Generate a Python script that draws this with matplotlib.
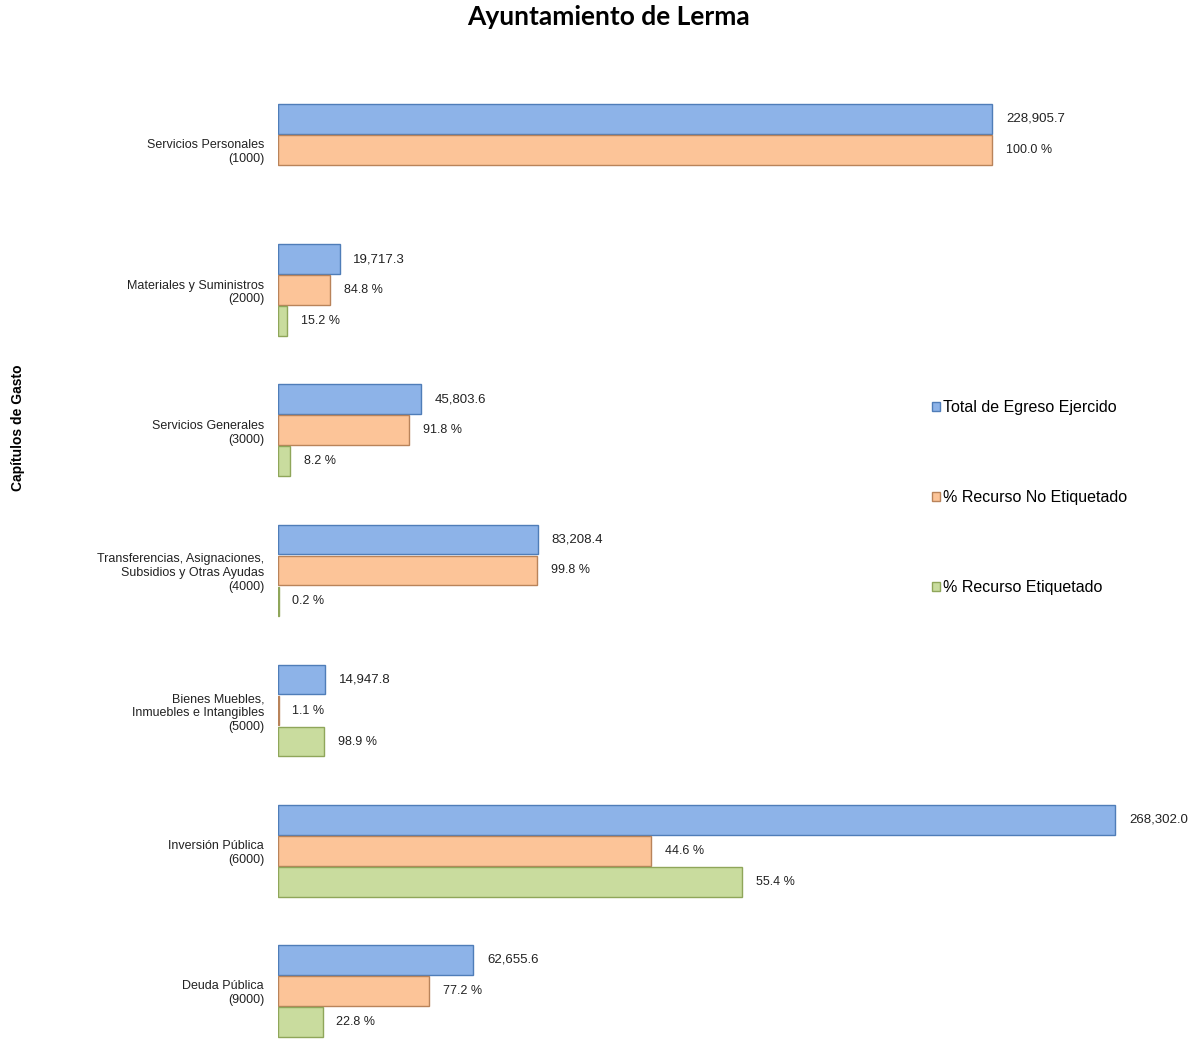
import matplotlib.pyplot as plt
import numpy as np

# data
categories = ['Servicios Personales\n(1000)', 'Materiales y Suministros\n(2000)',
              'Servicios Generales\n(3000)',
              'Transferencias, Asignaciones,\nSubsidios y Otras Ayudas\n(4000)',
              'Bienes Muebles,\nInmuebles e Intangibles\n(5000)',
              'Inversión Pública\n(6000)', 'Deuda Pública\n(9000)']
total = [228905.7, 19717.3, 45803.6, 83208.4, 14947.8, 268302.0, 62655.6]
pct_no_etiq = [100.0, 84.8, 91.8, 99.8, 1.1, 44.6, 77.2]
pct_etiq = [0.0, 15.2, 8.2, 0.2, 98.9, 55.4, 22.8]
series_names = ['Total de Egreso Ejercido', '% Recurso No Etiquetado', '% Recurso Etiquetado']

total = np.array(total)
no_etiq_amt = total * np.array(pct_no_etiq) / 100
etiq_amt = total * np.array(pct_etiq) / 100

fig = plt.figure(figsize=(11.96, 10.42), dpi=100)
ax = fig.add_axes([278/1196, 2/1042, 872/1196, 945/1042])

y = np.arange(len(categories))
step = 0.221
h = 0.212

b1 = ax.barh(y - step, total, height=h, color='#8DB3E8', edgecolor='#4F7DB8', linewidth=1)
b2 = ax.barh(y, no_etiq_amt, height=h, color='#FCC498', edgecolor='#B9835A', linewidth=1)
b3 = ax.barh(y + step, etiq_amt, height=h, color='#C9DC9E', edgecolor='#8FA65A', linewidth=1)

# hide empty bars
for bars in (b1, b2, b3):
    for p in bars.patches:
        if p.get_width() == 0:
            p.set_visible(False)

# labels
for i in range(len(categories)):
    ax.annotate(f'{total[i]:,.1f}', (total[i], y[i] - step), xytext=(10, 0),
                textcoords='offset points', va='center', ha='left', fontsize=9.5,
                family='Liberation Sans', color='#222222')
    ax.annotate(f'{pct_no_etiq[i]:.1f} %', (no_etiq_amt[i], y[i]), xytext=(10, 0),
                textcoords='offset points', va='center', ha='left', fontsize=9,
                family='Liberation Sans', color='#222222')
    if pct_etiq[i] > 0:
        ax.annotate(f'{pct_etiq[i]:.1f} %', (etiq_amt[i], y[i] + step), xytext=(10, 0),
                    textcoords='offset points', va='center', ha='left', fontsize=9,
                    family='Liberation Sans', color='#222222')

ax.set_xlim(0, 279500)
ax.set_ylim(6.35, -0.392)
ax.set_yticks(y)
ax.set_yticklabels(categories, fontsize=9, family='Liberation Sans', color='#222222')
ax.tick_params(axis='y', length=0, pad=10)
ax.set_xticks([])
for s in ['top', 'right', 'bottom', 'left']:
    ax.spines[s].set_visible(False)

ax.legend(handles=[b1.patches[1], b2.patches[1], b3.patches[1]], labels=series_names,
          loc='upper left', bbox_to_anchor=(932/1196, 1 - 400/1042),
          bbox_transform=fig.transFigure, frameon=False,
          prop={'family': 'Liberation Sans', 'size': 11.5},
          handlelength=0.5, handleheight=0.5, handletextpad=0.2, labelspacing=4.7,
          borderpad=0, borderaxespad=0)

fig.text(609/1196, 1 - 17/1042, 'Ayuntamiento de Lerma', ha='center', va='center',
         fontsize=19, fontweight='bold', family='Lato')
fig.text(18/1196, 1 - 428/1042, 'Capítulos de Gasto', rotation=90, ha='center', va='center',
         fontsize=10, fontweight='bold', family='Liberation Sans')

fig.savefig('out.png', dpi=100)
